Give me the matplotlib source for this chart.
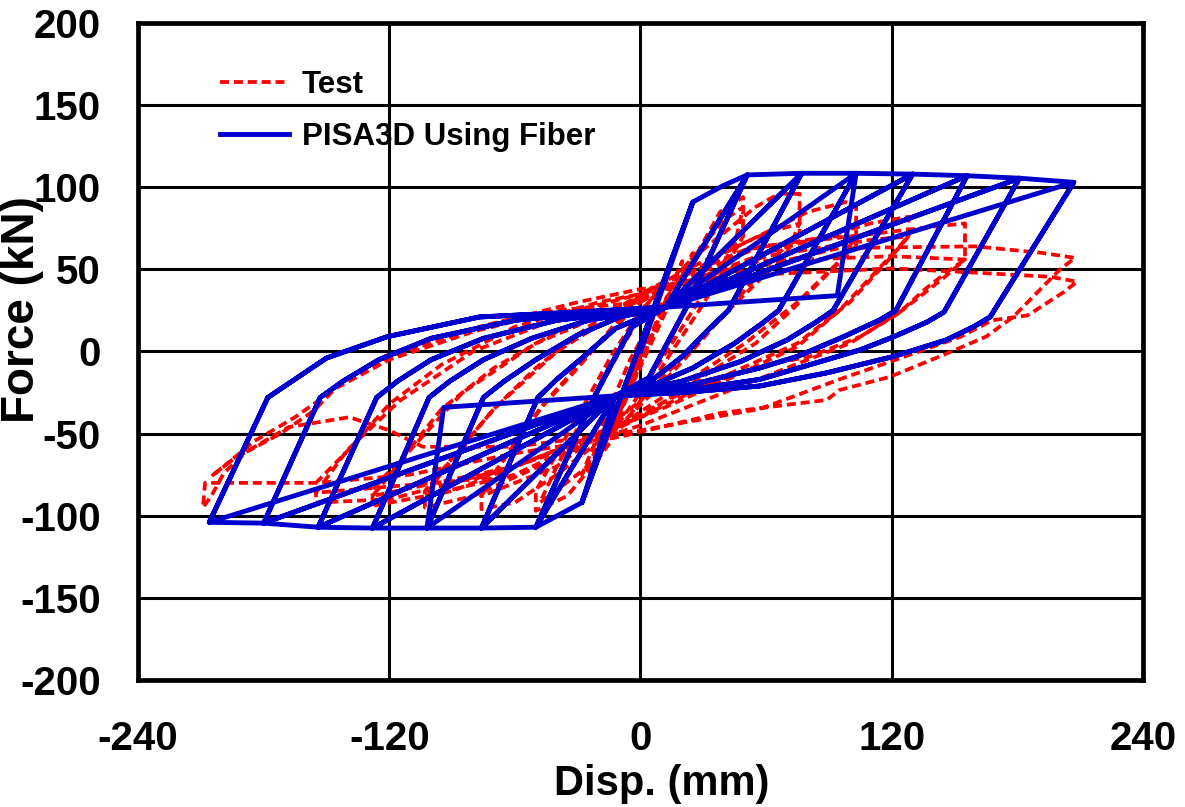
import matplotlib
matplotlib.use('Agg')
import matplotlib.pyplot as plt
from matplotlib.lines import Line2D

# ---- PISA3D using fiber: initial small cycle and envelope start (mm, kN)
fiber_init_x = [0, 25, -28, 25, 39.5]
fiber_init_f = [0, 91, -92, 91, 101]

# peak points of each amplitude level
fiber_pos_peak_x = [25, 51, 77, 103, 130, 156, 181, 207]
fiber_pos_peak_f = [91, 107.5, 108.5, 108.5, 108, 107, 105.5, 103]
fiber_neg_peak_x = [-28, -50, -76, -102, -128, -154, -180, -206]
fiber_neg_peak_f = [-92, -107, -107.5, -107.5, -107.5, -107, -104.5, -104]

# unloading from the positive peak of each level down to the pinch point
fiber_unload_pos_x = [
    [],
    [22, 14, 4, -12],
    [42, 33, 20, 5, -12],
    [66, 58, 45, 25, 5, -12],
    [92, 84, 70, 48, 20, -12],
    [122, 114, 97, 75, 57, 25, -12],
    [145, 137, 121, 105, 57, 20, -12],
    [167, 159, 146, 121, 89, 57, 20, -12],
]
fiber_unload_pos_f = [
    [],
    [27, 8, -16, -27],
    [25, 14, -3, -18, -27],
    [25, 17, 5, -10, -21, -27],
    [25, 18, 7, -6, -18, -27],
    [25, 19, 9, -3, -10, -20, -27],
    [24, 18, 9, 1, -17, -24, -27],
    [21, 15, 7, -3, -13, -21, -25, -27],
]
# unloading from the negative peak of each level up to the pinch point
fiber_unload_neg_x = [
    [],
    [-23, -14, -4, 12],
    [-49, -40, -27, -12, 12],
    [-75, -65, -50, -30, -10, 12],
    [-101, -91, -75, -52, -25, 12],
    [-126, -116, -100, -75, -40, 12],
    [-153, -142, -125, -100, -60, -20, 12],
    [-178, -167, -150, -121, -77, -30, 12],
]
fiber_unload_neg_f = [
    [],
    [-30, -8, 15, 27],
    [-28, -17, -3, 14, 27],
    [-28, -18, -5, 10, 21, 27],
    [-28, -18, -5, 8, 19, 27],
    [-28, -18, -5, 8, 19, 27],
    [-28, -18, -5, 8, 19, 24, 27],
    [-28, -18.6, -4, 9, 21, 24, 27],
]
# pinched reloading paths at level 4
fiber_flat_pos_x = [12, 94]
fiber_flat_pos_f = [27, 34]
fiber_flat_neg_x = [-12, -94]
fiber_flat_neg_f = [-27, -34]

# ---- Test: measured cycles (mm, kN)
test_c0_x = [0, 6, -5, 12, -12, 20, -22, 25, 18, 5, -10, -28, -20, -5, 8]
test_c0_f = [0, 25, -22, 45, -45, 55, -70, 60, 40, 10, -35, -75, -50, -5, 25]
test_c1_x = [8, 25, 38, 49, 49, 40, 28, 15, 0, -20, -35, -50, -50, -40, -28, -15, 0,
             20, 40, 49, 45, 30, 15, 0, -25, -48, -40, -25, -10, 5]
test_c1_f = [25, 55, 85, 94, 70, 50, 25, 0, -30, -65, -88, -97, -85, -62, -35, -5, 25,
             50, 80, 88, 65, 35, 5, -25, -70, -92, -70, -35, 0, 32]
test_c2_x = [5, 30, 55, 66, 76, 76, 62, 45, 30, 10, -10, -40, -60, -76, -76, -62, -48,
             -30, -10, 0, 30, 60, 76, 70, 50, 30, 0, -40, -76, -65, -45, -20, 0]
test_c2_f = [32, 62, 88, 96, 96, 72, 55, 30, 8, -20, -45, -75, -92, -96, -85, -60, -35,
             -10, 20, 35, 55, 72, 78, 60, 35, 10, -30, -70, -88, -65, -30, 5, 30]
test_c3_x = [0, 40, 80, 98, 103, 103, 90, 72, 55, 30, 0, -40, -80, -103, -103, -88, -70,
             -50, -25, 0, 50, 90, 103, 95, 75, 50, 20, -10, -60, -103, -90, -70, -40, 0]
test_c3_f = [30, 60, 85, 91, 88, 64, 48, 25, 5, -15, -40, -65, -88, -95, -85, -62, -35,
             -10, 15, 35, 62, 70, 70, 55, 30, 5, -20, -45, -75, -88, -65, -35, 0, 32]
test_c4_x = [0, 60, 110, 128, 128, 115, 95, 75, 45, 10, -30, -90, -128, -128, -112, -95,
             -70, -40, 0, 60, 110, 128, 118, 100, 75, 40, 0, -60, -128, -110, -85, -50, 0]
test_c4_f = [32, 60, 78, 82, 70, 52, 25, 3, -15, -35, -55, -85, -94, -84, -62, -35,
             -10, 12, 33, 58, 68, 70, 55, 30, 5, -15, -40, -70, -88, -60, -25, 5, 32]
test_c5_x = [0, 57, 100, 140, 155, 155, 146, 136, 123, 105, 81, 57, 20, -10, -60, -120,
             -155, -155, -138, -120, -95, -60, -20, 0, 57, 120, 155, 145, 125, 100, 60, 0,
             -80, -155, -140, -115, -80, -30, 0]
test_c5_f = [32, 64, 70, 76, 78, 56, 48, 38, 23, 9, -3, -9, -25, -45, -70, -90,
             -92, -80, -58, -32, -8, 15, 30, 35, 55, 58, 56, 45, 25, 5, -15, -45,
             -78, -86, -60, -30, 0, 25, 35]
test_c6_x = [0, 95, 160, 192, 207.5, 200, 178, 165, 143, 119, 95, 89, 38, -10, -60, -110,
             -154, -190, -208, -209, -205, -199, -188, -172, -156, -142, -130, -115, -77,
             -30, 0, 60, 120, 160, 195.6, 208.5, 202, 185, 168, 153, 122, 95, 57, 0, -60,
             -104, -120, -139, -168, -195, -205, -199, -185, -165, -145, -120, -80, -40, 0]
test_c6_f = [35, 63, 64, 60, 57, 49.5, 21, 9, -3, -15.5, -23.5, -29.5, -37.5, -52, -62, -75,
             -80, -80, -80, -95, -88, -74, -61, -50, -36, -17.5, -9, -1, 15,
             30, 38, 47, 50.6, 48, 45.5, 42.5, 36, 22, 19, 9, -5, -17, -35, -48, -58,
             -58, -48, -40, -46, -66, -76, -70, -55, -40, -22, -5, 12, 25, 30]

test_cycles = [(test_c0_x, test_c0_f), (test_c1_x, test_c1_f), (test_c2_x, test_c2_f),
               (test_c3_x, test_c3_f), (test_c4_x, test_c4_f), (test_c5_x, test_c5_f),
               (test_c6_x, test_c6_f)]

x_ticks = [-240, -120, 0, 120, 240]
y_ticks = [-200, -150, -100, -50, 0, 50, 100, 150, 200]


def fiber_path():
    px, pf = list(fiber_init_x), list(fiber_init_f)
    for k in range(1, len(fiber_pos_peak_x)):
        if k > 1:
            px.append(fiber_pos_peak_x[k - 1]); pf.append(fiber_pos_peak_f[k - 1])
        for rep in range(2):
            px.append(fiber_pos_peak_x[k]); pf.append(fiber_pos_peak_f[k])
            px += fiber_unload_pos_x[k]; pf += fiber_unload_pos_f[k]
            if rep == 0:
                px.append(fiber_neg_peak_x[k - 1]); pf.append(fiber_neg_peak_f[k - 1])
            elif k == 3:
                px += fiber_flat_neg_x[1:]; pf += fiber_flat_neg_f[1:]
            px.append(fiber_neg_peak_x[k]); pf.append(fiber_neg_peak_f[k])
            px += fiber_unload_neg_x[k]; pf += fiber_unload_neg_f[k]
            if rep == 0 and k == 3:
                px += fiber_flat_pos_x[1:]; pf += fiber_flat_pos_f[1:]
    return px, pf


plt.rcParams['font.family'] = ['Liberation Sans', 'DejaVu Sans']
plt.rcParams['font.weight'] = 'bold'
plt.rcParams['axes.unicode_minus'] = False

fig = plt.figure(figsize=(11.85, 8.07), dpi=100)
ax = fig.add_axes([0.1165, 0.1574, 0.848, 0.8141])

red = '#FF0000'
blue = '#0000CC'
for cx, cf in test_cycles:
    ax.plot(cx, cf, color=red, lw=2.7, ls=(0, (2.4, 1.3)), zorder=3)

fx, ff = fiber_path()
ax.plot(fx, ff, color=blue, lw=3.5, solid_joinstyle='round', zorder=4)

ax.set_xlim(-240, 240)
ax.set_ylim(-200, 200)
ax.set_xticks(x_ticks)
ax.set_yticks(y_ticks)
ax.grid(True, color='black', lw=2.2, zorder=1)
ax.set_axisbelow(True)
ax.tick_params(length=0, labelsize=29)
ax.tick_params(axis='x', pad=29)
ax.tick_params(axis='y', pad=27)
for s in ax.spines.values():
    s.set_linewidth(3.4)

ax.set_xlabel('Disp. (mm)', fontsize=30, fontweight='bold')
ax.set_ylabel('Force (kN)', fontsize=33, fontweight='bold')
ax.xaxis.set_label_coords(0.521, -0.128)
ax.yaxis.set_label_coords(-0.094, 0.564)

handles = [Line2D([], [], color=red, lw=2.7, ls=(0, (2.4, 1.3))),
           Line2D([], [], color=blue, lw=3.5)]
ax.legend(handles, ['Test', 'PISA3D Using Fiber'], loc='upper left',
          bbox_to_anchor=(0.0816, 0.929), frameon=False, borderpad=0, borderaxespad=0,
          prop={'size': 22.5, 'weight': 'bold'}, handlelength=2.2, handletextpad=0.42,
          labelspacing=0.72)

fig.savefig('out.png', dpi=100)
